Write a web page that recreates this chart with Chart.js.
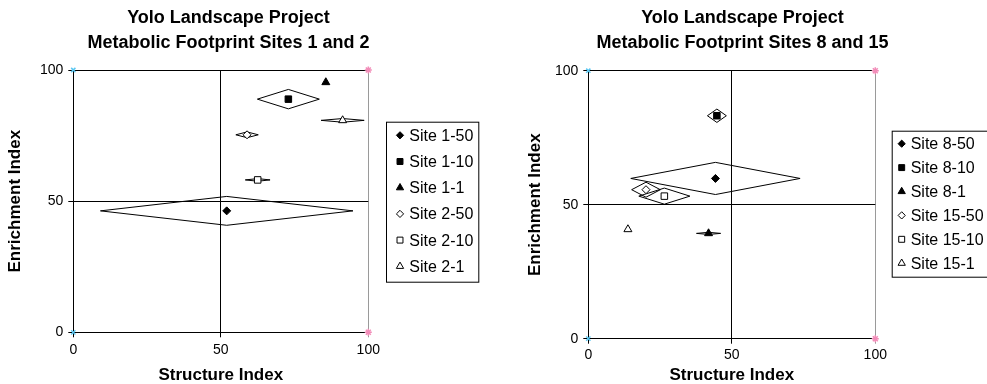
<!DOCTYPE html>
<html>
<head>
<meta charset="utf-8">
<script src="https://cdn.jsdelivr.net/npm/chart.js@4.4.1/dist/chart.umd.min.js"></script>
<style>
    html, body { margin: 0; padding: 0; background: #fff; }
    .panel { position: absolute; top: 0; height: 384px; }
    #left-panel { left: 0; width: 500px; }
    #right-panel { left: 500px; width: 487px; }
</style>
</head>
<body>
<div class="panel" id="left-panel"><canvas id="chartSites12"></canvas></div>
<div class="panel" id="right-panel"><canvas id="chartSites815"></canvas></div>
<script>
const FONT = 'Arial, "Liberation Sans", sans-serif';

const axisTicks = [0, 50, 100];

// Sites 1 and 2
const sites12Title = ['Yolo Landscape Project', 'Metabolic Footprint Sites 1 and 2'];
const sites12Labels = ['Site 1-50', 'Site 1-10', 'Site 1-1', 'Site 2-50', 'Site 2-10', 'Site 2-1'];
const sites12X = [52.0, 72.9, 85.6, 58.9, 62.5, 91.3];
const sites12Y = [46.3, 88.9, 95.3, 75.3, 58.1, 80.8];
const sites12XErr = [42.8, 10.5, 0, 3.8, 4.2, 7.3];
const sites12YErr = [5.5, 3.7, 0, 1.1, 0.5, 0.7];

// Sites 8 and 15
const sites815Title = ['Yolo Landscape Project', 'Metabolic Footprint Sites 8 and 15'];
const sites815Labels = ['Site 8-50', 'Site 8-10', 'Site 8-1', 'Site 15-50', 'Site 15-10', 'Site 15-1'];
const sites815X = [44.3, 44.8, 41.9, 20.1, 26.5, 13.8];
const sites815Y = [59.8, 83.2, 39.3, 55.6, 53.2, 40.8];
const sites815XErr = [29.5, 3.3, 4.2, 5.0, 8.9, 0];
const sites815YErr = [6.0, 2.5, 0.4, 2.8, 3.0, 0];

// range markers sitting on the plot corners
const cornerY = [0, 100];
const cornerLeftX = 0;
const cornerRightX = 100;

const markerStyles = ['rectRot', 'rect', 'triangle', 'rectRot', 'rect', 'triangle'];
const markerFilled = [true, true, true, false, false, false];
const markerRadius = { rectRot: 4, rect: 4.6, triangle: 4.6 };
const legendRadius = { rectRot: 3.6, rect: 4.2, triangle: 4.2 };

Chart.defaults.font.family = FONT;
Chart.defaults.color = '#000';

const boxedLegend = {
    id: 'boxedLegend',
    afterDraw(chart, args, opts) {
        const ctx = chart.ctx;
        const items = chart.data.datasets.filter(ds => ds.inLegend);
        ctx.save();
        ctx.strokeStyle = '#000';
        ctx.lineWidth = 1;
        ctx.strokeRect(opts.left + 0.5, opts.top + 0.5, opts.width, opts.height);
        ctx.font = '16px ' + FONT;
        ctx.textBaseline = 'middle';
        items.forEach((ds, i) => {
            const y = opts.top + opts.firstRow + i * opts.rowGap;
            ctx.fillStyle = ds.backgroundColor;
            ctx.strokeStyle = '#000';
            ctx.lineWidth = 1;
            Chart.helpers.drawPoint(ctx, {
                pointStyle: ds.pointStyle,
                radius: legendRadius[ds.pointStyle],
                rotation: 0,
                borderWidth: 1
            }, opts.markerX, y);
            ctx.fillStyle = '#000';
            ctx.fillText(ds.label, opts.textX, y + 1);
        });
        ctx.restore();
    }
};

function buildDatasets(labels, xs, ys, xErr, yErr) {
    const markers = labels.map((label, i) => ({
        label: label,
        data: [{ x: xs[i], y: ys[i] }],
        pointStyle: markerStyles[i],
        pointRadius: markerRadius[markerStyles[i]],
        backgroundColor: markerFilled[i] ? '#000' : '#fff',
        borderColor: '#000',
        borderWidth: 1,
        inLegend: true,
        order: 0
    }));

    // diamond showing the spread in both indices
    const ranges = [];
    labels.forEach((label, i) => {
        if (!xErr[i] && !yErr[i]) return;
        ranges.push({
            label: label + ' range',
            data: [
                { x: xs[i] - xErr[i], y: ys[i] },
                { x: xs[i], y: ys[i] + yErr[i] },
                { x: xs[i] + xErr[i], y: ys[i] },
                { x: xs[i], y: ys[i] - yErr[i] },
                { x: xs[i] - xErr[i], y: ys[i] }
            ],
            showLine: true,
            pointRadius: 0,
            borderColor: '#000',
            borderWidth: 1,
            fill: false,
            order: 2
        });
    });

    const corners = [
        {
            label: 'min',
            data: cornerY.map(y => ({ x: cornerLeftX, y: y })),
            pointStyle: 'crossRot',
            pointRadius: 3,
            borderColor: '#5cc8f2',
            borderWidth: 1.5,
            clip: false,
            order: 1
        },
        {
            label: 'max',
            data: cornerY.map(y => ({ x: cornerRightX, y: y })),
            pointStyle: 'star',
            pointRadius: 3.5,
            borderColor: '#f28cb8',
            borderWidth: 1.5,
            clip: false,
            order: 1
        }
    ];

    return markers.concat(ranges, corners);
}

function renderChart(canvasId, title, datasets, cfg) {
    const ctx = document.getElementById(canvasId).getContext('2d');
    return new Chart(ctx, {
        type: 'scatter',
        data: { datasets: datasets },
        plugins: [boxedLegend],
        options: {
            responsive: true,
            maintainAspectRatio: false,
            animation: false,
            events: [],
            layout: { padding: { top: 0, left: 0, bottom: 0, right: cfg.padRight } },
            scales: {
                x: {
                    type: 'linear',
                    min: 0,
                    max: 100,
                    afterBuildTicks: axis => { axis.ticks = axisTicks.map(v => ({ value: v })); },
                    grid: {
                        color: c => (c.tick && c.tick.value === 100 ? '#9a9a9a' : '#000'),
                        lineWidth: 1,
                        tickLength: 5
                    },
                    border: { color: '#000', width: 1 },
                    ticks: { font: { size: 14 }, padding: cfg.xTickPad, maxRotation: 0 },
                    title: {
                        display: true,
                        text: 'Structure Index',
                        font: { size: 17, weight: 'bold', lineHeight: 1 },
                        padding: { top: cfg.xTitlePad, bottom: 0 }
                    }
                },
                y: {
                    type: 'linear',
                    min: 0,
                    max: 100,
                    afterBuildTicks: axis => { axis.ticks = axisTicks.map(v => ({ value: v })); },
                    grid: { color: '#000', lineWidth: 1, tickLength: 5 },
                    border: { color: '#000', width: 1 },
                    ticks: { font: { size: 14 }, padding: 5 },
                    title: {
                        display: true,
                        text: 'Enrichment Index',
                        font: { size: 17, weight: 'bold', lineHeight: 1 },
                        padding: { top: cfg.yTitleOuter, bottom: cfg.yTitleInner }
                    }
                },
                // keeps room for the legend box
                legendSpace: {
                    type: 'linear',
                    position: 'right',
                    display: true,
                    grid: { display: false, drawTicks: false },
                    border: { display: false },
                    ticks: { display: false },
                    afterFit: axis => { axis.width = cfg.legendSpace; }
                }
            },
            plugins: {
                legend: { display: false },
                tooltip: { enabled: false },
                title: {
                    display: true,
                    text: title,
                    color: '#000',
                    font: { size: 18, weight: 'bold', lineHeight: 1.356 },
                    padding: { top: 6, bottom: cfg.titleGap }
                },
                boxedLegend: cfg.legend
            }
        }
    });
}

renderChart('chartSites12', sites12Title,
    buildDatasets(sites12Labels, sites12X, sites12Y, sites12XErr, sites12YErr), {
        padRight: 43,
        legendSpace: 88.7,
        xTickPad: 4,
        xTitlePad: 4.9,
        yTitleOuter: 6.8,
        yTitleInner: 11.15,
        titleGap: 15.2,
        legend: { left: 386, top: 121.7, width: 92.3, height: 160, markerX: 400, textX: 409.3, firstRow: 13.6, rowGap: 26.2 }
    });

renderChart('chartSites815', sites815Title,
    buildDatasets(sites815Labels, sites815X, sites815Y, sites815XErr, sites815YErr), {
        padRight: 2,
        legendSpace: 109.7,
        xTickPad: 3,
        xTitlePad: 0.5,
        yTitleOuter: 26.5,
        yTitleInner: 6.45,
        titleGap: 15.9,
        legend: { left: 391.7, top: 130.7, width: 110, height: 146, markerX: 401.7, textX: 410.7, firstRow: 13, rowGap: 23.9 }
    });
</script>
</body>
</html>
